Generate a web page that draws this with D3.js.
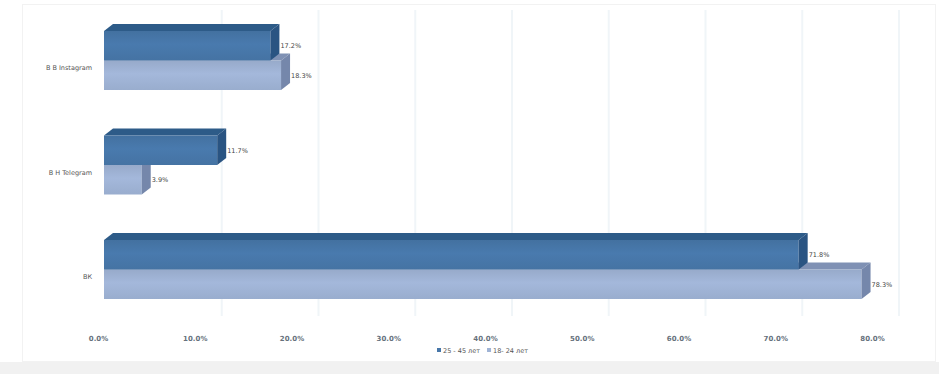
<!DOCTYPE html>
<html>
<head>
<meta charset="utf-8">
<script src="https://cdn.jsdelivr.net/npm/d3@7/dist/d3.min.js"></script>
<style>
  html, body { margin: 0; padding: 0; background: #ffffff; }
  svg { display: block; font-family: "DejaVu Sans", sans-serif; }
</style>
</head>
<body>
<svg id="chart" width="939" height="374"></svg>
<script>
// Categories, top to bottom
const categories = ["В В Instagram", "В Н Telegram", "ВК"];
// Series (age groups)
const seriesNames = ["25 - 45 лет", "18- 24 лет"];
const olderValues = [17.2, 11.7, 71.8];   // 25 - 45
const youngerValues = [18.3, 3.9, 78.3];  // 18 - 24
const tickValues = [0, 10, 20, 30, 40, 50, 60, 70, 80];

const W = 939, H = 374;
const svg = d3.select("#chart");

// 3D extrusion of the bars
const DX = 9, DY = 7;
const GRID_SHIFT = 21; // back wall sits behind the front plane

const x = d3.scaleLinear().domain([0, 80]).range([104, 878]);
const yGroup = d3.scalePoint().domain(categories).range([60, 269]);
const ySub = d3.scaleBand().domain(seriesNames).range([-29, 30]).padding(0);

const colors = {
  "25 - 45 лет": { front: "#4777a9", top: "#2d5b88", side: "#2a5482" },
  "18- 24 лет": { front: "#9fb3d5", top: "#7f91b4", side: "#7587ab" }
};

// chart frame
svg.append("rect").attr("x", 0).attr("y", 0).attr("width", W).attr("height", H).attr("fill", "#ffffff");
svg.append("rect").attr("x", 0).attr("y", 362).attr("width", W).attr("height", 12).attr("fill", "#f1f1f1");
svg.append("rect").attr("x", 22.5).attr("y", 4.5).attr("width", 913).attr("height", 357)
  .attr("fill", "none").attr("stroke", "#f2f2f2").attr("stroke-width", 1);

// gradients for the bar fronts
const defs = svg.append("defs");
seriesNames.forEach((s, i) => {
  const g = defs.append("linearGradient").attr("id", "grad" + i)
    .attr("x1", 0).attr("y1", 0).attr("x2", 0).attr("y2", 1);
  const c = d3.color(colors[s].front);
  g.append("stop").attr("offset", "0%").attr("stop-color", c.darker(0.15));
  g.append("stop").attr("offset", "45%").attr("stop-color", c.brighter(0.08));
  g.append("stop").attr("offset", "100%").attr("stop-color", c.darker(0.1));
});

// vertical gridlines on the back wall
svg.append("g").selectAll("line")
  .data(tickValues.slice(1))
  .join("line")
  .attr("x1", d => x(d) + GRID_SHIFT).attr("x2", d => x(d) + GRID_SHIFT)
  .attr("y1", 10).attr("y2", 316)
  .attr("stroke", "#f0f5f8").attr("stroke-width", 2);

// bars: younger (lower) first, then older on top
const rows = [];
categories.forEach((c, i) => {
  rows.push({ cat: c, series: seriesNames[1], value: youngerValues[i], si: 1 });
  rows.push({ cat: c, series: seriesNames[0], value: olderValues[i], si: 0 });
});

const bars = svg.append("g").selectAll("g.bar").data(rows).join("g").attr("class", "bar");

bars.each(function (d) {
  const g = d3.select(this);
  const x0 = x(0), x1 = x(d.value);
  const y0 = yGroup(d.cat) + ySub(d.series);
  const h = ySub.bandwidth();
  const col = colors[d.series];
  // top face
  g.append("path")
    .attr("d", `M${x0},${y0} L${x0 + DX},${y0 - DY} L${x1 + DX},${y0 - DY} L${x1},${y0} Z`)
    .attr("fill", col.top);
  // front face
  g.append("rect")
    .attr("x", x0).attr("y", y0).attr("width", x1 - x0).attr("height", h)
    .attr("fill", `url(#grad${d.si})`);
  // side face
  g.append("path")
    .attr("d", `M${x1},${y0} L${x1 + DX},${y0 - DY} L${x1 + DX},${y0 + h - DY} L${x1},${y0 + h} Z`)
    .attr("fill", col.side);
  // value label
  g.append("text")
    .attr("x", x1 + DX + 1).attr("y", y0 + h / 2 + 2.5)
    .attr("font-size", 6.5).attr("fill", "#444444")
    .text(d3.format(".1f")(d.value) + "%");
});

// category labels
svg.append("g").selectAll("text")
  .data(categories)
  .join("text")
  .attr("x", 92).attr("y", d => yGroup(d) + 10)
  .attr("text-anchor", "end").attr("font-size", 6.5).attr("fill", "#555555")
  .text(d => d);

// value axis labels
const axis = d3.axisBottom(x).tickValues(tickValues)
  .tickFormat(d => d3.format(".1f")(d) + "%").tickSize(0);
const ax = svg.append("g").attr("transform", "translate(-6,333)").call(axis);
ax.select(".domain").remove();
ax.selectAll("text").attr("font-size", 7).attr("font-weight", "bold")
  .attr("fill", "#66717c").attr("font-family", "DejaVu Sans, sans-serif");

// legend
const legend = svg.append("g").attr("transform", "translate(437,353)");
let lx = 0;
seriesNames.forEach((s, i) => {
  legend.append("rect").attr("x", lx).attr("y", -5).attr("width", 4).attr("height", 4)
    .attr("fill", colors[s].front);
  const t = legend.append("text").attr("x", lx + 6).attr("y", 0)
    .attr("font-size", 6.5).attr("fill", "#555555").text(s);
  lx += t.node().getComputedTextLength() + 13;
});
</script>
</body>
</html>
